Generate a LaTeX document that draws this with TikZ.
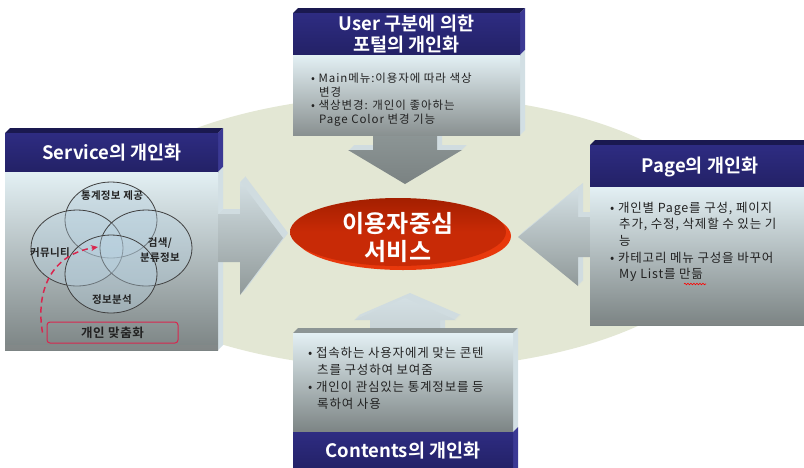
\documentclass[tikz,border=0pt]{standalone}
\usepackage{fontspec}
\setmainfont{Noto Sans CJK KR}[BoldFont={Noto Sans CJK KR Bold}]
\usetikzlibrary{arrows.meta,decorations.pathmorphing}
\definecolor{bgell}{HTML}{E3E7D4}
\definecolor{navy}{HTML}{2E2C82}
\definecolor{navyb}{HTML}{232166}
\definecolor{navytop}{HTML}{1A1950}
\definecolor{navyside}{HTML}{3B3994}
\definecolor{bodytop}{HTML}{E3F0F4}
\definecolor{bodybot}{HTML}{7C8484}
\definecolor{bodyside}{HTML}{D2DFE4}
\definecolor{graytop}{HTML}{8C9595}
\definecolor{extr}{HTML}{D0DCE0}
\definecolor{arrtop}{HTML}{D3DFE3}
\definecolor{arrbot}{HTML}{909999}
\definecolor{redc}{HTML}{C82A06}
\definecolor{redd}{HTML}{A41F00}
\definecolor{redrim}{HTML}{E8380C}
\definecolor{crimson}{HTML}{D9264E}
\definecolor{txt}{HTML}{222222}
\definecolor{vennfill}{HTML}{B9D3E3}
\begin{document}
\begin{tikzpicture}[x=1pt,y=-1pt,
  hdrtext/.style={text=white, font=\bfseries\fontsize{18.5}{21}\selectfont, align=center, inner sep=0},
  bodytext/.style={text=txt, font=\fontsize{12.5}{17}\selectfont\addfontfeature{LetterSpace=6.5}, align=left, anchor=north west, inner sep=0},
  venntext/.style={text=txt, font=\bfseries\fontsize{10.5}{15}\selectfont\addfontfeature{LetterSpace=3}, align=center, inner sep=0},
  venncirc/.style={draw=black!75, line width=0.8, fill=vennfill, fill opacity=0.35}]
\useasboundingbox (0,0) rectangle (804,467);
% background ellipse
\fill[bgell] (405,232) ellipse [x radius=320, y radius=137];

% ---------- top down arrow ----------
\foreach \k in {1,...,5}
  \fill[extr, shift={(\k,-\k)}] (373,135) -- (373,150) -- (348,150) -- (405,184) -- (462,150) -- (437,150) -- (437,135) -- cycle;
\shade[top color=graytop, bottom color=arrbot!85!black] (373,135) -- (373,150) -- (348,150) -- (405,184) -- (462,150) -- (437,150) -- (437,135) -- cycle;
% ---------- top box ----------
\fill[navytop] (293,13) -- (298,8) -- (525,8) -- (520,13) -- cycle;
\fill[navyside] (520,13) -- (525,8) -- (525,50) -- (520,55) -- cycle;
\fill[bodyside] (520,55) -- (525,50) -- (525,130) -- (520,135) -- cycle;
\shade[top color=navy, bottom color=navyb] (293,13) rectangle (520,55);
\shade[top color=bodytop, bottom color=bodybot!90!white] (293,55) rectangle (520,135);
\node[hdrtext] (tophdr) at (406.5,34) {User 구분에 의한\\포털의 개인화};
\node[bodytext, font=\fontsize{11.5}{13.5}\selectfont\addfontfeature{LetterSpace=8}] (toptxt) at (311,73) {\textbullet\ Main메뉴:이용자에 따라 색상\\\hspace*{8pt}변경\\\textbullet\ 색상변경: 개인이 좋아하는\\\hspace*{8pt}Page Color 변경 기능};

% ---------- bottom up arrow ----------
\foreach \k in {1,...,5}
  \fill[extr, shift={(\k,-\k)}] (370,333) -- (370,320) -- (354,320) -- (405,298) -- (456,320) -- (440,320) -- (440,333) -- cycle;
\shade[top color=arrtop, bottom color=arrtop!80!arrbot] (370,333) -- (370,320) -- (354,320) -- (405,298) -- (456,320) -- (440,320) -- (440,333) -- cycle;
% ---------- bottom box ----------
\fill[graytop] (293,333) -- (298,328) -- (518,328) -- (513,333) -- cycle;
\fill[bodyside] (513,333) -- (518,328) -- (518,427) -- (513,432) -- cycle;
\fill[navyside] (513,432) -- (518,427) -- (518,470) -- (513,470) -- cycle;
\shade[top color=bodytop, bottom color=bodybot] (293,333) rectangle (513,432);
\shade[top color=navy, bottom color=navyb] (293,432) rectangle (513,470);
\node[hdrtext] (bothdr) at (403,451) {Contents의 개인화};
\node[bodytext] (bottxt) at (308,347) {\textbullet\ 접속하는 사용자에게 맞는 콘텐\\\hspace*{9pt}츠를 구성하여 보여줌\\\textbullet\ 개인이 관심있는 통계정보를 등\\\hspace*{9pt}록하여 사용};

% ---------- right arrow ----------
\foreach \k in {1,...,5}
  \fill[extr, shift={(\k,-\k)}] (592,217) -- (578,217) -- (578,188) -- (518,237) -- (578,286) -- (578,257) -- (592,257) -- cycle;
\shade[top color=arrtop, bottom color=arrbot] (592,217) -- (578,217) -- (578,188) -- (518,237) -- (578,286) -- (578,257) -- (592,257) -- cycle;
% ---------- right box ----------
\fill[navytop] (590,145) -- (595,140) -- (810,140) -- (810,145) -- cycle;
\shade[top color=navy, bottom color=navyb] (590,145) rectangle (810,187);
\shade[top color=bodytop, bottom color=bodybot] (590,187) rectangle (810,325);
\fill[black!45, opacity=0.35] (590,320) rectangle (810,325);
\node[hdrtext] (righdr) at (700,167) {Page의 개인화};
\node[bodytext, font=\fontsize{12.5}{16.7}\selectfont\addfontfeature{LetterSpace=6.5}] (rigtxt) at (610,201.5) {\textbullet\ 개인별 Page를 구성, 페이지\\\hspace*{9pt}추가, 수정, 삭제할 수 있는 기\\\hspace*{9pt}능\\\textbullet\ 카테고리 메뉴 구성을 바꾸어\\\hspace*{9pt}My List를 만듦};
\draw[red, line width=0.6, decorate, decoration={snake, amplitude=0.8pt, segment length=3pt}] (684,284) -- (706,284);

% ---------- left box ----------
\fill[navytop] (5,133) -- (10,128) -- (223,128) -- (218,133) -- cycle;
\fill[navyside] (218,133) -- (223,128) -- (223,167) -- (218,172) -- cycle;
\fill[bodyside] (218,172) -- (223,167) -- (223,345) -- (218,350) -- cycle;
\shade[top color=navy, bottom color=navyb] (5,133) rectangle (218,172);
\shade[top color=bodytop, bottom color=bodybot] (5,172) rectangle (218,350);
\fill[black!45, opacity=0.35] (5,345) rectangle (218,350);
\node[hdrtext] (lefhdr) at (112,153) {Service의 개인화};
% ---------- left arrow ----------
\foreach \k in {1,...,5}
  \fill[extr, shift={(\k,-\k)}] (218,214) -- (240,214) -- (240,181) -- (283,238) -- (240,295) -- (240,262) -- (218,262) -- cycle;
\shade[top color=arrtop, bottom color=arrbot] (218,214) -- (240,214) -- (240,181) -- (283,238) -- (240,295) -- (240,262) -- (218,262) -- cycle;

% ---------- Venn ----------
\path[venncirc] (111,220) ellipse [x radius=46, y radius=38];
\path[venncirc] (77,248) ellipse [x radius=46, y radius=38];
\path[venncirc] (146,248) ellipse [x radius=46, y radius=38];
\path[venncirc] (111,274) ellipse [x radius=46, y radius=39];
\node[venntext] (v1) at (112,196) {통계정보 제공};
\node[venntext] (v2) at (50,253) {커뮤니티};
\node[venntext] (v3) at (160,250) {검색/\\분류정보};
\node[venntext] (v4) at (112,300) {정보분석};
\node[draw=crimson, line width=1, rounded corners=3pt, minimum width=131pt, minimum height=21pt, inner sep=0,
      font=\bfseries\fontsize{12.5}{14}\selectfont\addfontfeature{LetterSpace=5}, text=txt] (pm) at (112.5,332.5) {개인 맞춤화};
\coordinate (vt) at (98,247);
\draw[crimson, line width=1.5, dash pattern=on 6pt off 4pt, -{Stealth[length=7pt,width=6pt]}]
  ([xshift=-4pt]pm.west) .. controls (36,295) and (48,255) .. (vt);

% ---------- centre ----------
\fill[redrim] (403,236) ellipse [x radius=108, y radius=34];
\shade[top color=redd, bottom color=redc, middle color=redc] (398,232) ellipse [x radius=108, y radius=34];
\node[text=white, font=\bfseries\fontsize{24}{28}\selectfont, align=center, inner sep=0] (core) at (398,238) {이용자중심\\서비스};
\end{tikzpicture}
\end{document}
